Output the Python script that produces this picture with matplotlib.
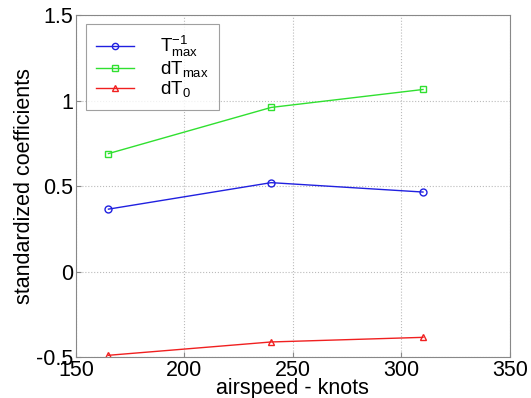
import matplotlib
matplotlib.use("Agg")
import matplotlib.pyplot as plt

airspeed = [165, 240, 310]
t_inv_max = [0.365, 0.52, 0.465]
dt_max = [0.69, 0.96, 1.065]
dt_0 = [-0.49, -0.412, -0.385]

series = [
    (t_inv_max, "#2020e0", "o", r"$\mathregular{T^{-1}_{max}}$"),
    (dt_max, "#30e030", "s", r"$\mathregular{dT_{max}}$"),
    (dt_0, "#f02020", "^", r"$\mathregular{dT_0}$"),
]

plt.rcParams["font.family"] = ["Liberation Sans", "DejaVu Sans"]

fig = plt.figure(figsize=(5.31, 3.98), dpi=100)
ax = fig.add_axes([0.143, 0.103, 0.817, 0.859])

for values, color, marker, label in series:
    ax.plot(airspeed, values, color=color, marker=marker, markersize=5,
            markerfacecolor="none", markeredgecolor=color, linewidth=1,
            label=label)

ax.set_xlim(150, 350)
ax.set_ylim(-0.5, 1.5)
ax.set_xticks([150, 200, 250, 300, 350])
ax.set_yticks([-0.5, 0, 0.5, 1, 1.5])
ax.set_yticklabels(["-0.5", "0", "0.5", "1", "1.5"])
ax.grid(True, linestyle=":", color="#bbbbbb", linewidth=0.8)
ax.tick_params(direction="in", labelsize=15.5, pad=2, color="#888888")
for s in ax.spines.values():
    s.set_color("#888888")

ax.set_xlabel("airspeed - knots", fontsize=15.5, labelpad=-2)
ax.set_ylabel("standardized coefficients", fontsize=15.5, labelpad=1)

leg = ax.legend(loc="upper left", fontsize=13.5, fancybox=False,
                edgecolor="#888888", handlelength=2.0, handletextpad=1.4,
                borderpad=0.55, labelspacing=0.0, markerscale=0.9,
                borderaxespad=0, bbox_to_anchor=(0.023, 0.974))
leg.get_frame().set_linewidth(0.8)

fig.savefig("out.png", dpi=100)
